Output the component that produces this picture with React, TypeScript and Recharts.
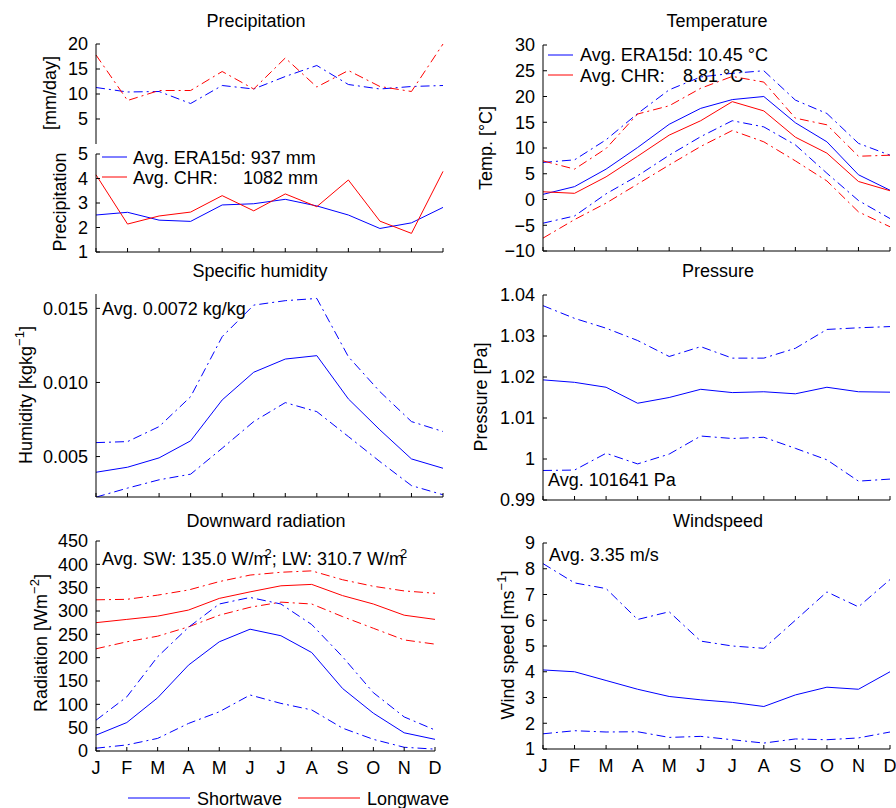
import React from 'react';
import { LineChart, Line, XAxis, YAxis } from 'recharts';

const months = ['J', 'F', 'M', 'A', 'M', 'J', 'J', 'A', 'S', 'O', 'N', 'D'];

// precipitation: daily peaks [mm/day] and monthly means
const precipEraPeak = [11.3, 10.4, 10.5, 8.1, 11.7, 11.0, 13.5, 15.7, 11.9, 11.0, 11.5, 11.7];
const precipChrPeak = [17.8, 8.7, 10.7, 10.7, 14.5, 11.0, 17.2, 11.4, 14.7, 11.5, 10.5, 20.0];
const precipEra = [2.51, 2.62, 2.3, 2.25, 2.92, 2.97, 3.15, 2.88, 2.51, 1.96, 2.19, 2.82];
const precipChr = [4.15, 2.14, 2.47, 2.63, 3.3, 2.68, 3.37, 2.85, 3.94, 2.26, 1.76, 4.29];

// temperature [C]
const tempEra = [1.0, 2.5, 5.9, 10.1, 14.6, 17.7, 19.4, 20.0, 14.9, 11.2, 4.8, 1.8];
const tempChr = [1.5, 1.2, 4.4, 8.4, 12.5, 15.3, 19.0, 17.2, 12.1, 9.0, 3.5, 1.7];
const tempEraHi = [7.2, 7.7, 11.6, 16.7, 21.3, 23.8, 24.5, 25.0, 19.3, 16.7, 10.9, 8.6];
const tempChrHi = [7.5, 5.9, 9.9, 16.6, 18.2, 21.6, 23.9, 22.8, 15.8, 14.5, 8.4, 8.6];
const tempEraLo = [-4.6, -3.2, 1.1, 4.6, 8.6, 12.2, 15.3, 14.1, 10.6, 5.1, -0.2, -3.7];
const tempChrLo = [-7.5, -3.9, -0.7, 3.0, 6.7, 10.3, 13.4, 11.2, 7.5, 3.6, -2.4, -5.3];

// specific humidity [kg/kg]
const humid = [0.00394, 0.00428, 0.00491, 0.00606, 0.00882, 0.01069, 0.01158, 0.01181, 0.00889, 0.0068, 0.00484, 0.00421];
const humidHi = [0.00594, 0.00601, 0.00702, 0.00904, 0.01309, 0.01522, 0.01552, 0.01567, 0.01174, 0.00938, 0.00736, 0.00669];
const humidLo = [0.00226, 0.00287, 0.00343, 0.00381, 0.00556, 0.00736, 0.00864, 0.00803, 0.00635, 0.00466, 0.00304, 0.00242];

// pressure (x 1e5 Pa)
const press = [1.0193, 1.0187, 1.0175, 1.0136, 1.015, 1.017, 1.0162, 1.0164, 1.0159, 1.0175, 1.0164, 1.0163];
const pressHi = [1.0374, 1.0343, 1.0319, 1.0289, 1.025, 1.0274, 1.0246, 1.0246, 1.027, 1.0316, 1.032, 1.0323];
const pressLo = [0.9972, 0.9973, 1.0014, 0.9988, 1.0012, 1.0056, 1.005, 1.0053, 1.0026, 0.9998, 0.9946, 0.9951];

// downward radiation [W/m2]
const swMean = [34, 61, 114, 184, 234, 261, 247, 211, 134, 81, 39, 25];
const swHi = [66, 116, 202, 265, 315, 329, 315, 271, 202, 125, 73, 45];
const swLo = [6, 13, 27, 59, 84, 120, 102, 88, 49, 25, 8, 4];
const lwMean = [275, 282, 289, 302, 327, 341, 354, 357, 333, 315, 291, 282];
const lwHi = [324, 325, 334, 345, 363, 377, 383, 386, 367, 353, 343, 338];
const lwLo = [219, 234, 246, 266, 291, 308, 319, 315, 288, 263, 238, 229];

// windspeed [m/s]
const wind = [4.07, 4.0, 3.66, 3.32, 3.04, 2.91, 2.81, 2.65, 3.1, 3.4, 3.32, 4.0];
const windHi = [8.2, 7.45, 7.23, 6.03, 6.33, 5.19, 5.0, 4.91, 6.0, 7.1, 6.52, 7.58];
const windLo = [1.59, 1.71, 1.66, 1.67, 1.45, 1.49, 1.36, 1.23, 1.39, 1.36, 1.43, 1.66];

const FONT = '"Liberation Sans", Arial, Helvetica, sans-serif';
const BLUE = '#0000ff';
const RED = '#ff0000';
const DASHDOT = '9 4 2 4';
const idx = months.map((_, i) => i);

const rows = (cols: Record<string, number[]>) =>
  months.map((m, i) => {
    const r: Record<string, number | string> = { x: i, m };
    Object.keys(cols).forEach((k) => (r[k] = cols[k][i]));
    return r;
  });

type Series = { key: string; color: string; dash?: boolean };
type Box = { x: number; y: number; w: number; h: number };

const noLabel = () => <g />;
const tickStyle = { fontSize: 18, fill: '#000', fontFamily: FONT };

function Panel(props: {
  box: Box;
  data: Record<string, number | string>[];
  series: Series[];
  domain: [number, number];
  ticks: number[];
  fmt?: (v: number) => string;
  labels?: boolean;
  noTop?: boolean;
  noBottom?: boolean;
}) {
  const { box, data, series, domain, ticks, fmt, labels, noTop, noBottom } = props;
  const L = 80, B = 35, T = 10, R = 10;
  return (
    <div style={{ position: 'absolute', left: box.x - L, top: box.y - T }}>
      <LineChart width={box.w + L + R} height={box.h + T + B} data={data} margin={{ top: T, right: R, bottom: 0, left: 0 }}>
        <XAxis
          xAxisId="b"
          orientation="bottom"
          type="number"
          dataKey="x"
          domain={[0, 11]}
          ticks={idx}
          interval={0}
          height={B}
          tickSize={-4}
          tickMargin={14}
          stroke="#000"
          axisLine={!noBottom}
          tickLine={!noBottom}
          tick={labels ? tickStyle : noLabel}
          tickFormatter={(v: number) => months[v]}
        />
        <XAxis
          xAxisId="t"
          orientation="top"
          type="number"
          dataKey="x"
          domain={[0, 11]}
          ticks={idx}
          interval={0}
          height={0}
          tickSize={-4}
          stroke="#000"
          axisLine={!noTop}
          tickLine={!noTop}
          tick={noLabel}
        />
        <YAxis
          yAxisId="l"
          orientation="left"
          type="number"
          domain={domain}
          ticks={ticks}
          interval={0}
          allowDataOverflow
          width={L}
          tickSize={-4}
          tickMargin={12}
          stroke="#000"
          tick={tickStyle}
          tickFormatter={fmt}
        />
        <YAxis
          yAxisId="r"
          orientation="right"
          type="number"
          domain={domain}
          ticks={ticks}
          interval={0}
          allowDataOverflow
          width={0}
          tickSize={-4}
          stroke="#000"
          tick={noLabel}
        />
        {series.map((s) => (
          <Line
            key={s.key}
            xAxisId="b"
            yAxisId="l"
            dataKey={s.key}
            stroke={s.color}
            strokeWidth={1}
            strokeDasharray={s.dash ? DASHDOT : undefined}
            dot={false}
            activeDot={false}
            isAnimationActive={false}
          />
        ))}
      </LineChart>
    </div>
  );
}

const range = (a: number, b: number, s: number) => {
  const out: number[] = [];
  for (let v = a; v <= b + 1e-9; v += s) out.push(Math.round(v * 1000) / 1000);
  return out;
};

function VLabel({ x, y, children }: { x: number; y: number; children: React.ReactNode }) {
  return (
    <text x={0} y={0} transform={`translate(${x},${y}) rotate(-90)`} textAnchor="middle" dominantBaseline="central" fontSize={18}>
      {children}
    </text>
  );
}

export default function App() {
  return (
    <div style={{ position: 'absolute', left: 0, top: 0, width: 896, height: 808, background: '#fff', fontFamily: FONT }}>
      <Panel
        box={{ x: 96, y: 44, w: 347, h: 100 }}
        data={rows({ era: precipEraPeak, chr: precipChrPeak })}
        series={[
          { key: 'era', color: BLUE, dash: true },
          { key: 'chr', color: RED, dash: true },
        ]}
        domain={[0, 20]}
        ticks={[5, 10, 15, 20]}
        noBottom
      />
      <Panel
        box={{ x: 96, y: 154, w: 347, h: 98 }}
        data={rows({ era: precipEra, chr: precipChr })}
        series={[
          { key: 'era', color: BLUE },
          { key: 'chr', color: RED },
        ]}
        domain={[1, 5]}
        ticks={[1, 2, 3, 4, 5]}
        noTop
      />
      <Panel
        box={{ x: 543, y: 45, w: 347, h: 206 }}
        data={rows({ era: tempEra, chr: tempChr, eraHi: tempEraHi, chrHi: tempChrHi, eraLo: tempEraLo, chrLo: tempChrLo })}
        series={[
          { key: 'eraHi', color: BLUE, dash: true },
          { key: 'eraLo', color: BLUE, dash: true },
          { key: 'chrHi', color: RED, dash: true },
          { key: 'chrLo', color: RED, dash: true },
          { key: 'era', color: BLUE },
          { key: 'chr', color: RED },
        ]}
        domain={[-10, 30]}
        ticks={range(-10, 30, 5)}
        fmt={(v) => (v < 0 ? `\u2212${-v}` : `${v}`)}
      />
      <Panel
        box={{ x: 96, y: 294, w: 347, h: 203 }}
        data={rows({ q: humid, hi: humidHi, lo: humidLo })}
        series={[
          { key: 'hi', color: BLUE, dash: true },
          { key: 'lo', color: BLUE, dash: true },
          { key: 'q', color: BLUE },
        ]}
        domain={[0.00227, 0.01597]}
        ticks={[0.005, 0.01, 0.015]}
        fmt={(v) => v.toFixed(3)}
      />
      <Panel
        box={{ x: 543, y: 295, w: 347, h: 205 }}
        data={rows({ p: press, hi: pressHi, lo: pressLo })}
        series={[
          { key: 'hi', color: BLUE, dash: true },
          { key: 'lo', color: BLUE, dash: true },
          { key: 'p', color: BLUE },
        ]}
        domain={[0.99, 1.04]}
        ticks={[0.99, 1, 1.01, 1.02, 1.03, 1.04]}
        fmt={(v) => `${v}`}
      />
      <Panel
        box={{ x: 96, y: 541, w: 339, h: 210 }}
        data={rows({ sw: swMean, swHi, swLo, lw: lwMean, lwHi, lwLo })}
        series={[
          { key: 'lwHi', color: RED, dash: true },
          { key: 'lwLo', color: RED, dash: true },
          { key: 'swHi', color: BLUE, dash: true },
          { key: 'swLo', color: BLUE, dash: true },
          { key: 'lw', color: RED },
          { key: 'sw', color: BLUE },
        ]}
        domain={[0, 450]}
        ticks={range(0, 450, 50)}
        labels
      />
      <Panel
        box={{ x: 543, y: 543, w: 347, h: 206 }}
        data={rows({ u: wind, hi: windHi, lo: windLo })}
        series={[
          { key: 'hi', color: BLUE, dash: true },
          { key: 'lo', color: BLUE, dash: true },
          { key: 'u', color: BLUE },
        ]}
        domain={[1, 9]}
        ticks={range(1, 9, 1)}
        labels
      />

      <svg width={896} height={808} style={{ position: 'absolute', left: 0, top: 0, pointerEvents: 'none' }} fontFamily={FONT} fill="#000">
        {/* titles */}
        <text x={256} y={27} textAnchor="middle" fontSize={18}>Precipitation</text>
        <text x={717} y={27} textAnchor="middle" fontSize={18}>Temperature</text>
        <text x={260} y={277} textAnchor="middle" fontSize={18}>Specific humidity</text>
        <text x={718} y={277} textAnchor="middle" fontSize={18}>Pressure</text>
        <text x={266} y={527} textAnchor="middle" fontSize={18}>Downward radiation</text>
        <text x={718} y={527} textAnchor="middle" fontSize={18}>Windspeed</text>

        {/* axis labels */}
        <VLabel x={50} y={93}>[mm/day]</VLabel>
        <VLabel x={60} y={202}>Precipitation</VLabel>
        <VLabel x={486} y={148}>Temp. [°C]</VLabel>
        <VLabel x={26} y={395}>
          Humidity [kgkg<tspan dy={-7} fontSize={13}>−1</tspan>
          <tspan dy={7}>]</tspan>
        </VLabel>
        <VLabel x={481} y={397}>Pressure [Pa]</VLabel>
        <VLabel x={41} y={643}>
          Radiation [Wm<tspan dy={-7} fontSize={13}>−2</tspan>
          <tspan dy={7}>]</tspan>
        </VLabel>
        <VLabel x={508} y={645}>
          Wind speed [ms<tspan dy={-7} fontSize={13}>−1</tspan>
          <tspan dy={7}>]</tspan>
        </VLabel>

        {/* precipitation legend */}
        <line x1={102} x2={127} y1={157} y2={157} stroke={BLUE} />
        <text x={133} y={164} fontSize={18}>Avg. ERA15d: 937 mm</text>
        <line x1={102} x2={127} y1={177} y2={177} stroke={RED} />
        <text x={133} y={184} fontSize={18}>
          Avg. CHR:<tspan x={243}>1082 mm</tspan>
        </text>

        {/* temperature legend */}
        <line x1={548} x2={573} y1={55} y2={55} stroke={BLUE} />
        <text x={580} y={61} fontSize={18}>Avg. ERA15d: 10.45 °C</text>
        <line x1={548} x2={573} y1={75} y2={75} stroke={RED} />
        <text x={580} y={82} fontSize={18}>
          Avg. CHR:<tspan x={683}>8.81 °C</tspan>
        </text>

        {/* annotations */}
        <text x={102} y={315} fontSize={18}>Avg. 0.0072 kg/kg</text>
        <text x={548} y={486} fontSize={18}>Avg. 101641 Pa</text>
        <text x={102} y={565} fontSize={18}>
          Avg. SW: 135.0 W/m<tspan dx={-4} dy={-7} fontSize={13}>2</tspan>
          <tspan dy={7}>; LW: 310.7 W/m</tspan>
          <tspan dx={-4} dy={-7} fontSize={13}>2</tspan>
        </text>
        <text x={549} y={561} fontSize={18}>Avg. 3.35 m/s</text>

        {/* bottom legend */}
        <line x1={128} x2={190} y1={798} y2={798} stroke={BLUE} />
        <text x={197} y={805} fontSize={18}>Shortwave</text>
        <line x1={298} x2={360} y1={798} y2={798} stroke={RED} />
        <text x={367} y={805} fontSize={18}>Longwave</text>
      </svg>
    </div>
  );
}
